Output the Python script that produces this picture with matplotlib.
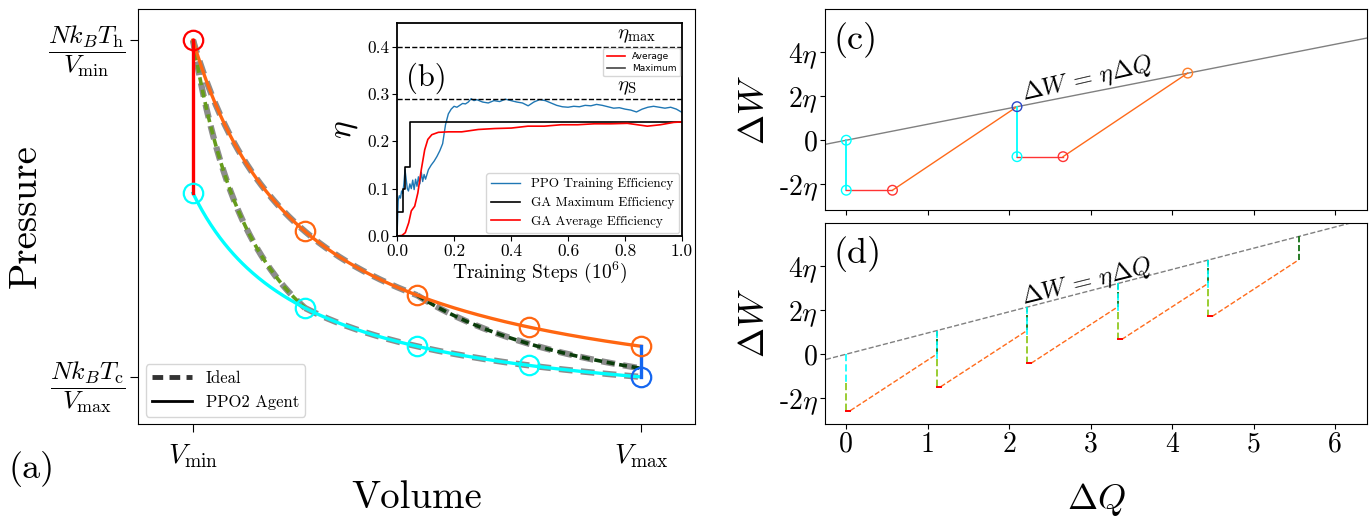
import numpy as np
import matplotlib
matplotlib.use("Agg")
import matplotlib.pyplot as plt
from matplotlib.lines import Line2D

plt.rcParams['font.family'] = 'serif'
plt.rcParams['font.serif'] = ['cmr10']
plt.rcParams['mathtext.fontset'] = 'cm'
plt.rcParams['axes.formatter.use_mathtext'] = True
plt.rcParams['axes.unicode_minus'] = False

# ---- (a) P-V cycle: parameters ----
V_min, V_max = 1.0, 5.0
T_h, T_c = 1.0, 0.6                    # N k_B T in plot units
hot_marker_V = [2.0, 3.0, 4.0, 5.0]
cold_marker_V = [1.0, 2.0, 3.0, 4.0]
ideal_hot_V = [1.0, 3.0]               # ideal hot isotherm range
ideal_cold_V = [2.0, 5.0]              # ideal cold isotherm range
ideal_adiabat1 = [(1.0, 1.0), (2.0, 0.30)]      # (V, P) end points
ideal_adiabat2 = [(3.0, 0.3333), (5.0, 0.1423)]

# ---- (b) training curves ----
ppo_steps = [0, 0.004, 0.008, 0.012, 0.016, 0.02, 0.024, 0.028, 0.032, 0.036,
             0.04, 0.045, 0.05, 0.055, 0.06, 0.065, 0.07, 0.075, 0.08, 0.085,
             0.09, 0.095, 0.10, 0.11, 0.12, 0.13, 0.14, 0.15, 0.16, 0.17,
             0.18, 0.19, 0.20, 0.21, 0.22, 0.23, 0.24, 0.25, 0.26, 0.27,
             0.28, 0.30, 0.32, 0.34, 0.36, 0.38, 0.40, 0.42, 0.44, 0.46,
             0.48, 0.50, 0.52, 0.54, 0.56, 0.58, 0.60, 0.62, 0.64, 0.66,
             0.68, 0.70, 0.72, 0.74, 0.76, 0.78, 0.80, 0.82, 0.84, 0.86,
             0.88, 0.90, 0.92, 0.94, 0.96, 0.98, 1.0]
ppo_eff = [0.0, 0.075, 0.085, 0.08, 0.095, 0.09, 0.11, 0.14, 0.12, 0.10,
           0.095, 0.11, 0.10, 0.118, 0.098, 0.12, 0.105, 0.125, 0.11, 0.135,
           0.115, 0.13, 0.12, 0.14, 0.15, 0.158, 0.168, 0.18, 0.195, 0.235,
           0.258, 0.268, 0.274, 0.272, 0.276, 0.28, 0.279, 0.283, 0.29, 0.286,
           0.288, 0.283, 0.281, 0.286, 0.284, 0.289, 0.286, 0.283, 0.281, 0.275,
           0.283, 0.288, 0.286, 0.281, 0.276, 0.273, 0.272, 0.274, 0.273, 0.276,
           0.275, 0.278, 0.276, 0.273, 0.27, 0.271, 0.268, 0.266, 0.262, 0.268,
           0.272, 0.274, 0.272, 0.27, 0.272, 0.268, 0.261]
ga_max_steps = [0.0, 0.0, 0.022, 0.029, 0.045, 1.0]
ga_max_eff = [0.0, 0.05, 0.10, 0.146, 0.241, 0.241]
ga_avg_steps = [0.0, 0.017, 0.029, 0.041, 0.05, 0.062, 0.073, 0.085, 0.097, 0.108,
                0.122, 0.145, 0.18, 0.227, 0.285, 0.343, 0.401, 0.459, 0.517,
                0.576, 0.634, 0.692, 0.75, 0.808, 0.843, 0.878, 0.924, 0.971, 1.0]
ga_avg_eff = [0.0, 0.001, 0.007, 0.028, 0.053, 0.063, 0.091, 0.14, 0.182, 0.204,
              0.214, 0.219, 0.22, 0.22, 0.225, 0.227, 0.228, 0.232, 0.232,
              0.235, 0.235, 0.237, 0.237, 0.238, 0.235, 0.232, 0.235, 0.24, 0.241]
eta_max, eta_S = 0.40, 0.29

# ---- (c) agent cycle in the dQ-dW plane ----
eta_c = 0.729
c_Q = [0.0, 0.0, 0.567, 2.095, 2.095, 2.66, 4.19]
c_W = [0.0, -2.28, -2.28, 1.53, -0.75, -0.75, 3.06]
c_seg_colors = ['cyan', '#ff3333', '#ff6a1a', 'cyan', '#ff3333', '#ff6a1a']
c_pt_colors = ['cyan', 'cyan', '#ff3333', '#2a45c8', 'cyan', '#ff3333', '#ff7f2a']

# ---- (d) ideal cycles ----
eta_d = 0.965
d_Q = [0.0, 1.11, 2.22, 3.33, 4.44, 5.55]
d_top_W = [0.0, 1.07, 2.14, 3.22, 4.27, 5.37]
d_mid_W = [-1.30, -0.24, 0.84, 1.91, 2.97]
d_low_W = [-2.57, -1.48, -0.41, 0.67, 1.72]
d_end_W = [0.0, 1.08, 2.15, 3.22, 4.29]
d_iso_dQ = 0.05

fig = plt.figure(figsize=(13.71, 5.2), dpi=100)
ax_a = fig.add_axes([0.1007, 0.1846, 0.4063, 0.798])
ax_b = fig.add_axes([0.2896, 0.5462, 0.2079, 0.4096])
ax_c = fig.add_axes([0.6021, 0.5962, 0.395, 0.386])
ax_d = fig.add_axes([0.6021, 0.1846, 0.395, 0.3865])

# ================= (a) =================
ideal_ls = (0, (2.2, 1.3))
v = np.linspace(*ideal_hot_V, 200)
ax_a.plot(v, T_h / v, color='#8c8c8c', lw=4.5, ls=ideal_ls, zorder=1)
v = np.linspace(*ideal_cold_V, 200)
ax_a.plot(v, T_c / v, color='#8c8c8c', lw=4.5, ls=ideal_ls, zorder=1)
for (pts, col) in [(ideal_adiabat1, '#669c1c'), (ideal_adiabat2, '#0b3d0b')]:
    (va, pa), (vb, pb) = pts
    g = np.log(pa / pb) / np.log(vb / va)
    v = np.linspace(va, vb, 200)
    ax_a.plot(v, pa * (va / v) ** g, color='#8c8c8c', lw=4.5, ls=ideal_ls, zorder=1)
    ax_a.plot(v, pa * (va / v) ** g, color=col, lw=2.6, ls=ideal_ls, zorder=2)

v = np.linspace(V_min, V_max, 300)
ax_a.plot(v, T_h / v, color='#ff6611', lw=2.4, zorder=3)
ax_a.plot(v, T_c / v, color='cyan', lw=2.4, zorder=3)
ax_a.plot([V_min, V_min], [T_h / V_min, T_c / V_min], color='red', lw=2.4, zorder=3)
ax_a.plot([V_max, V_max], [T_h / V_max, T_c / V_max], color='#1466f0', lw=2.4, zorder=3)

hv = np.array(hot_marker_V)
cv = np.array(cold_marker_V)
ax_a.plot(hv, T_h / hv, 'o', ms=14, mfc='none', mec='#ff6611', mew=1.6, zorder=4)
ax_a.plot(cv, T_c / cv, 'o', ms=14, mfc='none', mec='cyan', mew=1.6, zorder=4)
ax_a.plot([V_min], [T_h / V_min], 'o', ms=14, mfc='none', mec='red', mew=1.6, zorder=4)
ax_a.plot([V_max], [T_c / V_max], 'o', ms=14, mfc='none', mec='#1466f0', mew=1.6, zorder=4)

ax_a.set_xlim(0.51, 5.48)
ax_a.set_ylim(-0.003, 1.081)
ax_a.set_xticks([V_min, V_max])
ax_a.set_xticklabels([r'$V_{\rm min}$', r'$V_{\rm max}$'], fontsize=20)
ax_a.set_yticks([T_c / V_max, T_h / V_min])
ax_a.set_yticklabels([r'$\dfrac{Nk_BT_{\rm c}}{V_{\rm max}}$',
                      r'$\dfrac{Nk_BT_{\rm h}}{V_{\rm min}}$'], fontsize=18.5)
ax_a.tick_params(axis='both', length=6, pad=7)
ax_a.tick_params(axis='y', pad=3)
ax_a.set_xlabel('Volume', fontsize=28)
ax_a.set_ylabel('Pressure', fontsize=28)
ax_a.xaxis.set_label_coords(0.5, -0.135)
ax_a.yaxis.set_label_coords(-0.17, 0.5)
h = [Line2D([], [], color='#333333', lw=3.5, ls=ideal_ls),
     Line2D([], [], color='black', lw=2)]
ax_a.legend(h, ['Ideal', 'PPO2 Agent'], loc='lower left', fontsize=12,
            handlelength=2.4, borderaxespad=0.45)
fig.text(0.006, 0.098, '(a)', fontsize=26, va='center', ha='left')

# ================= (b) =================
ax_b.plot(ppo_steps, ppo_eff, color='#1f77b4', lw=1, label='PPO Training Efficiency')
ax_b.plot(ga_max_steps, ga_max_eff, color='black', lw=1.2, drawstyle='steps-post',
          label='GA Maximum Efficiency')
ax_b.plot(ga_avg_steps, ga_avg_eff, color='red', lw=1.2, label='GA Average Efficiency')
ax_b.axhline(eta_max, color='black', ls='--', lw=1)
ax_b.axhline(eta_S, color='black', ls='--', lw=1)
ax_b.text(0.91, eta_max + 0.003, r'$\eta_{\rm max}$', fontsize=15, ha='right', va='bottom')
ax_b.text(0.84, eta_S + 0.003, r'$\eta_{\rm S}$', fontsize=15, ha='right', va='bottom')
ax_b.text(0.03, 0.74, '(b)', fontsize=22, transform=ax_b.transAxes, va='center')
ax_b.set_xlim(0, 1)
ax_b.set_ylim(0, 0.45)
ax_b.set_xticks([0, 0.2, 0.4, 0.6, 0.8, 1.0])
ax_b.set_yticks([0, 0.1, 0.2, 0.3, 0.4])
ax_b.set_xticklabels(['0.0', '0.2', '0.4', '0.6', '0.8', '1.0'])
ax_b.set_yticklabels(['0.0', '0.1', '0.2', '0.3', '0.4'])
ax_b.tick_params(labelsize=12.5, length=3.5, pad=2)
for s in ax_b.spines.values():
    s.set_linewidth(1.3)
ax_b.set_xlabel(r'Training Steps $(10^6)$', fontsize=14)
ax_b.set_ylabel(r'$\eta$', fontsize=24)
ax_b.xaxis.set_label_coords(0.5, -0.11)
ax_b.yaxis.set_label_coords(-0.13, 0.5)
leg1 = ax_b.legend(loc='lower right', fontsize=9.5, borderaxespad=0.2, handlelength=2.2)
ax_b.add_artist(leg1)
h2 = [Line2D([], [], color='red', lw=1.2), Line2D([], [], color='#444444', lw=1.2)]
ax_b.legend(h2, ['Average', 'Maximum'], loc='upper right', bbox_to_anchor=(0.997, 0.885),
            prop={'family': 'DejaVu Sans', 'size': 6.5}, handlelength=2.0,
            borderaxespad=0.1, labelspacing=0.3)

# ================= (c) =================
ql = np.array([-0.6, 7.0])
ax_c.plot(ql, eta_c * ql, color='grey', lw=1, zorder=1)
for i, col in enumerate(c_seg_colors):
    ax_c.plot(c_Q[i:i + 2], c_W[i:i + 2], color=col, lw=1.3 if col == 'cyan' else 1.0, zorder=2)
ax_c.scatter(c_Q, c_W, s=48, facecolors='none', edgecolors=c_pt_colors, linewidths=1, zorder=3)
ax_c.text(2.95, 2.8, r'$\Delta W\, =\, \eta\Delta Q$', rotation=13, fontsize=18,
          ha='center', va='center')

# ================= (d) =================
ax_d.plot(ql, eta_d * ql, color='grey', lw=1, ls='--', zorder=1)
for k in range(len(d_low_W)):
    q = d_Q[k]
    ax_d.plot([d_Q[k + 1]] * 2, [d_end_W[k], d_top_W[k + 1]], color='#006400', lw=1.2, ls='--', zorder=2)
    ax_d.plot([q, q], [d_top_W[k], d_mid_W[k]], color='cyan', lw=1.4, ls='--', alpha=0.85, zorder=3)
    ax_d.plot([q, q], [d_mid_W[k], d_low_W[k]], color='#9acd32', lw=1.4, ls='--', zorder=3)
    ax_d.plot([q, q + d_iso_dQ], [d_low_W[k]] * 2, color='red', lw=1.4, zorder=3)
    ax_d.plot([q + d_iso_dQ, d_Q[k + 1]], [d_low_W[k], d_end_W[k]], color='#ff6a1a',
              lw=1.0, ls='--', zorder=2)
ax_d.text(2.95, 3.3, r'$\Delta W\, =\, \eta\Delta Q$', rotation=14, fontsize=18,
          ha='center', va='center')

for ax, lab in [(ax_c, '(c)'), (ax_d, '(d)')]:
    ax.set_xlim(-0.255, 6.39)
    ax.set_ylim(-3.18, 5.97)
    ax.set_xticks(range(7))
    ax.set_yticks([-2, 0, 2, 4])
    ax.set_yticklabels(['-2$\\eta$', '0', '2$\\eta$', '4$\\eta$'])
    ax.tick_params(labelsize=20, pad=2)
    ax.set_ylabel(r'$\Delta W$', fontsize=26)
    ax.yaxis.set_label_coords(-0.1, 0.5)
    ax.text(0.014, 0.845, lab, fontsize=26, transform=ax.transAxes, va='center')
ax_c.set_xticklabels([])
ax_d.set_xticklabels([str(i) for i in range(7)])
ax_d.set_xlabel(r'$\Delta Q$', fontsize=26)
ax_d.xaxis.set_label_coords(0.5, -0.285)

fig.savefig('out.png', dpi=100)
